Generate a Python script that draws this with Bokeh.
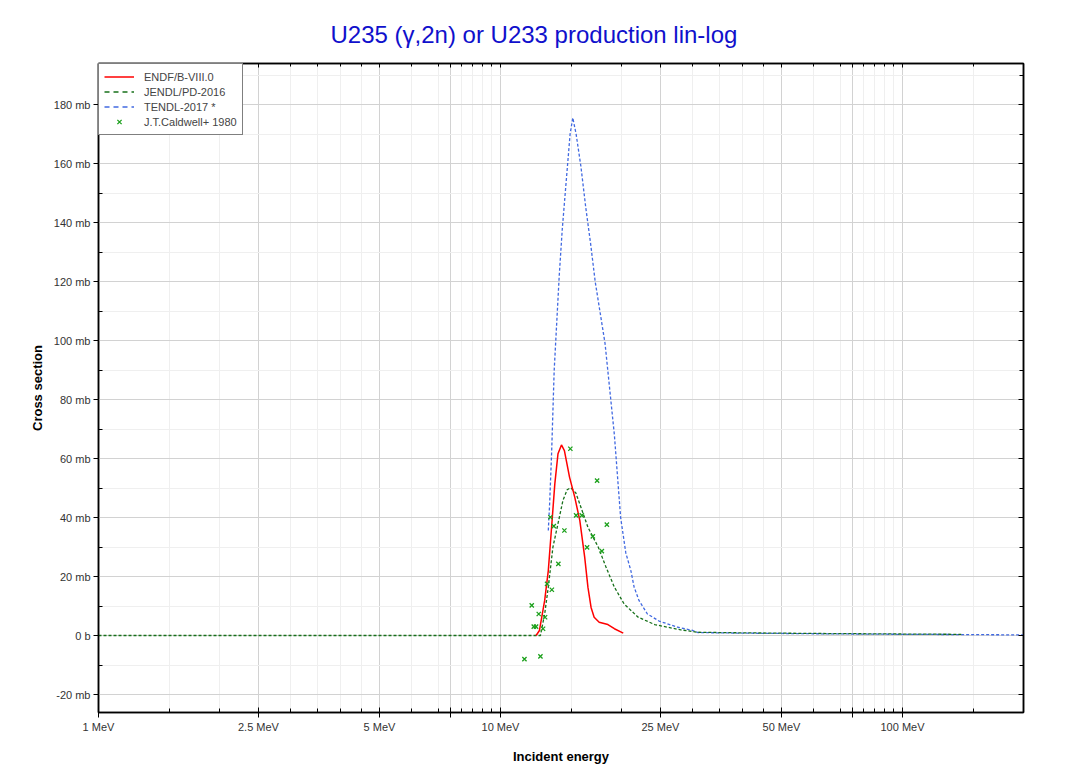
from bokeh.plotting import figure
from bokeh.models import (FixedTicker, LogAxis, LinearAxis, Legend, LegendItem,
                          Range1d, CustomJSTickFormatter)
from bokeh.embed import file_html
from bokeh.resources import INLINE

# ---------------- data ----------------
endf_e = [12.26, 12.5, 12.88, 13.15, 13.4, 13.65, 13.9, 14.18, 14.42, 14.85, 15.3,
          15.75, 16.2, 16.5, 16.8, 17.1, 17.6, 18.5, 19.2, 20.2]
endf_v = [0.0, 1.7, 11.9, 22.0, 36.7, 51.4, 61.6, 64.6, 62.7, 53.7, 46.9,
          39.0, 26.5, 16.4, 9.5, 6.2, 4.5, 3.7, 2.3, 0.8]

jendl_e = [1.0, 12.57, 12.88, 13.15, 13.5, 13.9, 14.3, 14.65, 14.95, 15.4, 15.85,
           16.5, 17.5, 18.3, 19.2, 20.3, 22.0, 24.2, 28.1, 31.0, 40.0, 60.0, 100.0, 140.0]
jendl_v = [0.0, 0.0, 7.3, 16.4, 29.9, 37.9, 45.8, 49.4, 50.1, 48.3, 43.5,
           36.7, 30.0, 23.2, 16.4, 10.7, 6.2, 3.7, 1.9, 1.1, 0.9, 0.7, 0.5, 0.4]

tendl_e = [13.15, 13.25, 13.4, 13.6, 14.0, 14.25, 14.55, 14.9, 15.13, 15.42, 15.85,
           16.3, 16.75, 17.2, 18.2, 19.2, 19.9, 20.5, 21.1, 21.5, 22.1, 23.2, 24.8,
           27.6, 30.1, 31.0, 40.0, 60.0, 100.0, 150.0, 200.0]
tendl_v = [35.6, 44.6, 61.6, 89.8, 122.0, 138.0, 153.0, 170.0, 175.5, 170.0, 159.0,
           145.0, 133.0, 120.0, 99.0, 68.0, 40.0, 28.0, 22.0, 16.4, 11.9, 7.3, 4.9,
           2.8, 1.7, 1.0, 0.8, 0.6, 0.4, 0.3, 0.2]

cald_e = [11.47, 11.96, 12.10, 12.26, 12.45, 12.57, 12.76, 12.91, 13.06, 13.31, 13.42,
          13.57, 13.93, 14.42, 14.92, 15.42, 15.93, 16.42, 16.97, 17.39, 17.87, 18.39]
cald_v = [-8.0, 10.2, 3.0, 3.0, 7.3, -7.1, 2.3, 6.2, 17.5, 40.1, 15.5,
          37.1, 24.3, 35.6, 63.3, 40.7, 40.7, 29.9, 33.6, 52.5, 28.6, 37.6]

x_major = [1, 2.5, 5, 7.5, 10, 25, 50, 75, 100]
x_minor = [1.5, 2, 3, 3.5, 4, 4.5, 6, 7, 8, 8.5, 9, 9.5, 15, 20, 30, 35, 40, 45,
           60, 70, 80, 85, 90, 95, 150]
x_labels = {1: "1 MeV", 2.5: "2.5 MeV", 5: "5 MeV", 7.5: "", 10: "10 MeV",
            25: "25 MeV", 50: "50 MeV", 75: "", 100: "100 MeV"}
y_major = [-20, 0, 20, 40, 60, 80, 100, 120, 140, 160, 180]
y_minor = [-10, 10, 30, 50, 70, 90, 110, 130, 150, 170, 190]
y_labels = {-20: "-20 mb", 0: "0 b", 20: "20 mb", 40: "40 mb", 60: "60 mb",
            80: "80 mb", 100: "100 mb", 120: "120 mb", 140: "140 mb",
            160: "160 mb", 180: "180 mb"}

FONT = "Liberation Sans"
RED, GREEN, BLUE, PTS = "#ff0000", "#17701a", "#4169e1", "#1ca01c"
NAN = float("nan")

p = figure(width=1047, height=770, x_axis_type="log",
           x_range=Range1d(1, 200), y_range=Range1d(-26.1, 193.9),
           output_backend="svg", toolbar_location=None,
           min_border_left=98, min_border_right=24, min_border_top=63,
           min_border_bottom=58,
           title="U235 (\u03b3,2n) or U233 production lin-log")

p.title.text_font = FONT
p.title.text_font_size = "24px"
p.title.text_font_style = "normal"
p.title.text_color = "#1010cc"
p.title.align = "left"
p.title.offset = 232
p.title.standoff = 32

p.outline_line_color = "black"
p.outline_line_width = 1.5
p.background_fill_color = "white"
p.border_fill_color = "white"

xt = FixedTicker(ticks=x_major, minor_ticks=x_minor)
yt = FixedTicker(ticks=y_major, minor_ticks=y_minor)

xa = p.xaxis[0]
xa.ticker = xt
xa.major_label_overrides = x_labels
xa.axis_label = "Incident energy"
xa.major_tick_in = 5
xa.major_tick_out = 5
xa.minor_tick_in = 4
xa.minor_tick_out = 0
xa.major_label_standoff = 3
xa.axis_label_standoff = 13

ya = p.yaxis[0]
ya.ticker = yt
ya.major_label_overrides = y_labels
ya.axis_label = "Cross section"
ya.major_tick_in = 0
ya.major_tick_out = 5
ya.minor_tick_in = 4
ya.minor_tick_out = 0
ya.major_label_standoff = 3
ya.axis_label_standoff = 6

for ax in (xa, ya):
    ax.axis_line_color = "black"
    ax.axis_line_width = 1.5
    ax.major_tick_line_color = "black"
    ax.minor_tick_line_color = "black"
    ax.major_label_text_font = FONT
    ax.major_label_text_font_size = "11px"
    ax.major_label_text_color = "#333333"
    ax.axis_label_text_font = FONT
    ax.axis_label_text_font_size = "13px"
    ax.axis_label_text_font_style = "bold"
    ax.axis_label_text_color = "black"

top = LogAxis(ticker=xt, formatter=CustomJSTickFormatter(code="return ''"),
              major_label_standoff=0,
              major_tick_in=4, major_tick_out=0, minor_tick_in=3, minor_tick_out=0,
              axis_line_color="black", axis_line_width=1.5)
right = LinearAxis(ticker=yt, formatter=CustomJSTickFormatter(code="return ''"),
                   major_label_standoff=0,
                   major_tick_in=5, major_tick_out=0, minor_tick_in=4, minor_tick_out=0,
                   axis_line_color="black", axis_line_width=1.5)
p.add_layout(top, "above")
p.add_layout(right, "right")

p.xgrid.ticker = xt
p.ygrid.ticker = yt
for g in (p.xgrid, p.ygrid):
    g.grid_line_color = "#d2d2d2"
    g.grid_line_width = 1
    g.minor_grid_line_color = "#efefef"
    g.minor_grid_line_width = 1

r_tendl = p.line(tendl_e, tendl_v, line_color=BLUE, line_width=1.3, line_dash="3 2")
r_jendl = p.line(jendl_e, jendl_v, line_color=GREEN, line_width=1.3, line_dash="3 2")
r_endf = p.line(endf_e, endf_v, line_color=RED, line_width=1.5)
r_cald = p.scatter(cald_e, cald_v, marker="x", size=6, line_color=PTS, line_width=1.3)

# legend-only swatches (a single NaN point, nothing drawn in the plot)
k_jendl = p.line([NAN], [NAN], line_color=GREEN, line_width=1.6, line_dash="5 4")
k_tendl = p.line([NAN], [NAN], line_color=BLUE, line_width=1.6, line_dash="5 4")

legend = Legend(items=[
    LegendItem(label="ENDF/B-VIII.0", renderers=[r_endf]),
    LegendItem(label="JENDL/PD-2016", renderers=[k_jendl]),
    LegendItem(label="TENDL-2017 *", renderers=[k_tendl]),
    LegendItem(label="J.T.Caldwell+ 1980", renderers=[r_cald]),
], location="top_left")
legend.margin = 0
legend.padding = 5
legend.spacing = 0
legend.glyph_width = 30
legend.glyph_height = 15
legend.label_height = 15
legend.label_standoff = 10
legend.label_text_font = FONT
legend.label_text_font_size = "11px"
legend.border_line_color = "black"
legend.border_line_width = 1
legend.background_fill_color = "white"
legend.background_fill_alpha = 1
p.add_layout(legend)

open("out.html", "w").write(file_html(p, INLINE))
